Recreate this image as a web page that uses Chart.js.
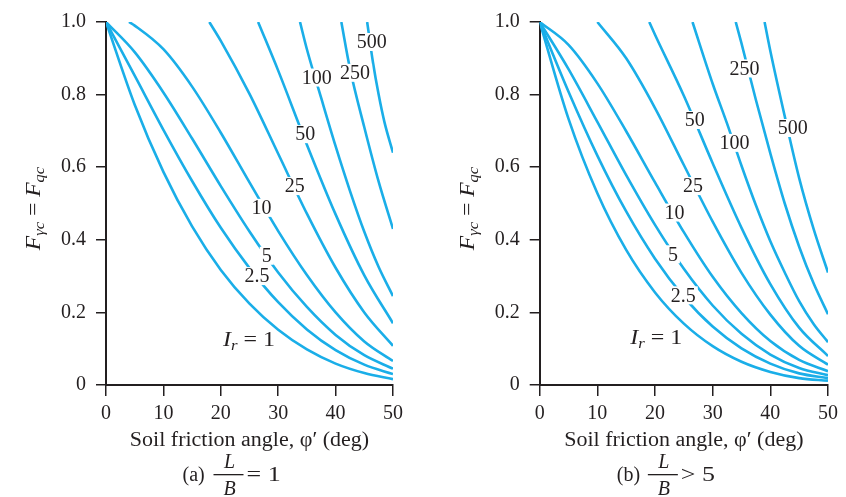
<!DOCTYPE html>
<html>
<head>
<meta charset="utf-8">
<script src="https://cdn.jsdelivr.net/npm/chart.js@4.4.1/dist/chart.umd.min.js"></script>
<style>
  html, body { margin: 0; padding: 0; background: #fff; }
  #wrap { position: relative; width: 846px; height: 497px; }
  .panel { position: absolute; top: 0; width: 423px; height: 497px; }
</style>
</head>
<body>
<div id="wrap">
  <div class="panel" style="left:0"><canvas id="chartA" width="423" height="497"></canvas></div>
  <div class="panel" style="left:423px"><canvas id="chartB" width="423" height="497"></canvas></div>
</div>
<script>
// ===================== DADOS =====================
const X_TICKS = [0, 10, 20, 30, 40, 50];
const Y_TICKS = [0, 0.2, 0.4, 0.6, 0.8, 1.0];
const Y_TICK_TEXT = ['0', '0.2', '0.4', '0.6', '0.8', '1.0'];

// (a) L/B = 1  -> pares [phi, F]
const A_IR1   = [[0,1],[5,.772],[10,.587],[15,.437],[20,.317],[25,.224],[30,.152],[35,.098],[40,.059],[45,.033],[50,.016]];
const A_IR2_5 = [[0,1],[5,.852],[10,.703],[15,.562],[20,.433],[25,.322],[30,.228],[35,.153],[40,.096],[45,.056],[50,.03]];
const A_IR5   = [[0,1],[5,.917],[10,.806],[15,.679],[20,.548],[25,.423],[30,.31],[35,.215],[40,.138],[45,.082],[50,.045]];
const A_IR10  = [[4,1],[5,.99],[10,.925],[15,.822],[20,.695],[25,.558],[30,.424],[35,.303],[40,.2],[45,.12],[50,.066]];
const A_IR25  = [[18,1],[20,.948],[25,.802],[30,.637],[35,.472],[40,.323],[45,.2],[50,.108]];
const A_IR50  = [[26.5,1],[30,.866],[35,.662],[40,.47],[45,.302],[50,.17]];
const A_IR100 = [[33.8,1],[35,.925],[37.5,.79],[40,.658],[42.5,.535],[45,.422],[47.5,.325],[50,.245]];
const A_IR250 = [[41,1],[42.5,.872],[45,.71],[47.5,.56],[50,.43]];
const A_IR500 = [[45.5,1],[46.5,.89],[47.5,.80],[48.5,.725],[50,.64]];

// (b) L/B > 5
const B_IR1   = [[0,1],[5,.733],[10,.528],[15,.372],[20,.255],[25,.169],[30,.107],[35,.064],[40,.036],[45,.019],[50,.012]];
const B_IR2_5 = [[0,1],[5,.808],[10,.632],[15,.478],[20,.348],[25,.243],[30,.161],[35,.101],[40,.059],[45,.032],[50,.019]];
const B_IR5   = [[0,1],[5,.87],[10,.725],[15,.578],[20,.441],[25,.32],[30,.219],[35,.141],[40,.084],[45,.047],[50,.027]];
const B_IR10  = [[0,1],[5,.937],[10,.831],[15,.699],[20,.558],[25,.421],[30,.298],[35,.198],[40,.121],[45,.069],[50,.038]];
const B_IR25  = [[10,1],[15,.9],[20,.763],[25,.606],[30,.45],[35,.309],[40,.194],[45,.108],[50,.056]];
const B_IR50  = [[19,1],[20,.965],[25,.797],[30,.611],[35,.433],[40,.278],[45,.158],[50,.08]];
const B_IR100 = [[26.5,1],[30,.83],[32.5,.72],[35,.604],[37.5,.495],[40,.396],[42.5,.31],[45,.231],[47.5,.168],[50,.118]];
const B_IR250 = [[34,1],[35,.941],[37.5,.785],[40,.638],[42.5,.5],[45,.381],[47.5,.28],[50,.195]];
const B_IR500 = [[39,1],[40,.92],[42.5,.74],[45,.57],[47.5,.43],[50,.31]];

// rotulos das curvas
const A_LABEL_TEXT = ['500', '250', '100', '50', '25', '10', '5', '2.5'];
const A_LABEL_PHI  = [46.3, 43.4, 36.7, 34.7, 32.9, 27.1, 28.0, 26.3];
const A_LABEL_F    = [0.945, 0.86, 0.847, 0.691, 0.548, 0.488, 0.356, 0.30];
const A_IR_POS     = [24.9, 0.128];

const B_LABEL_TEXT = ['250', '500', '50', '100', '25', '10', '5', '2.5'];
const B_LABEL_PHI  = [35.5, 43.9, 26.9, 33.8, 26.6, 23.4, 23.1, 24.9];
const B_LABEL_F    = [0.872, 0.708, 0.73, 0.667, 0.548, 0.475, 0.36, 0.247];
const B_IR_POS     = [20.2, 0.132];

// ===================== ESTILO =====================
const SERIF = '"Liberation Serif", "Times New Roman", serif';
const INK = '#231f20';
const CURVE_COLOR = '#1aaee8';

// desenha pedacos de texto em sequencia (italico, subscrito...), com esticamento horizontal k
function drawRuns(ctx, parts, x, y, center, k = 1) {
  let total = 0;
  parts.forEach(p => { ctx.font = p.font; p.w = ctx.measureText(p.t).width; total += p.w; });
  ctx.save();
  ctx.translate(x, y);
  ctx.scale(k, 1);
  let cx = center ? -total / 2 : 0;
  ctx.textAlign = 'left';
  ctx.textBaseline = 'alphabetic';
  parts.forEach(p => {
    ctx.font = p.font;
    ctx.fillText(p.t, cx, p.dy || 0);
    cx += p.w;
  });
  ctx.restore();
}

const annotate = {
  id: 'annotate',
  afterDatasetsDraw(chart, args, opts) {
    const { ctx, chartArea } = chart;
    const xs = chart.scales.x, ys = chart.scales.y;
    const big = `20px ${SERIF}`, it = `italic 20px ${SERIF}`, sub = `italic 14px ${SERIF}`;
    ctx.save();

    // rotulos sobre as curvas (fundo branco abre o "gap" na linha)
    ctx.font = big;
    ctx.textAlign = 'center';
    ctx.textBaseline = 'middle';
    opts.text.forEach((t, i) => {
      const px = xs.getPixelForValue(opts.phi[i]);
      const py = ys.getPixelForValue(opts.f[i]);
      const w = ctx.measureText(t).width;
      ctx.fillStyle = '#fff';
      ctx.fillRect(px - w / 2 - 2, py - 9, w + 4, 18);
      ctx.fillStyle = INK;
      ctx.fillText(t, px, py + 1);
    });

    // I_r = 1
    ctx.fillStyle = INK;
    drawRuns(ctx, [
      { t: 'I', font: it },
      { t: 'r', font: sub, dy: 4 },
      { t: ' = 1', font: big }
    ], xs.getPixelForValue(opts.ir[0]), ys.getPixelForValue(opts.ir[1]) + 7, true, 1.2);

    // titulo do eixo x
    const cx = (chartArea.left + chartArea.right) / 2;
    drawRuns(ctx, [{ t: 'Soil friction angle, \u03c6\u2032 (deg)', font: big }],
      cx, chartArea.bottom + 61, true, 1.1);

    // legenda (a) L/B = 1
    drawRuns(ctx, [{ t: opts.tag, font: big }], cx - 67, chartArea.bottom + 96, false);
    ctx.font = it;
    ctx.textAlign = 'center';
    ctx.textBaseline = 'alphabetic';
    ctx.fillText('L', cx - 20, chartArea.bottom + 83);
    ctx.fillText('B', cx - 20, chartArea.bottom + 110);
    ctx.fillRect(cx - 36, chartArea.bottom + 89, 30, 1.3);
    drawRuns(ctx, [{ t: opts.rel, font: big }], cx - 3, chartArea.bottom + 96, false, 1.3);

    // titulo do eixo y: F_yc = F_qc
    ctx.translate(chartArea.left - 66, (chartArea.top + chartArea.bottom) / 2 + 5);
    ctx.rotate(-Math.PI / 2);
    drawRuns(ctx, [
      { t: 'F', font: it },
      { t: '\u03b3c', font: sub, dy: 4 },
      { t: ' = ', font: big },
      { t: 'F', font: it },
      { t: 'qc', font: sub, dy: 4 }
    ], 0, 0, true, 1.18);

    ctx.restore();
  }
};

// ===================== PAINEL =====================
function renderPanel(id, curves, axisLeft, padRight, labels) {
  const canvas = document.getElementById(id);
  const datasets = curves.map(c => ({
    data: c.map(([x, y]) => ({ x, y })),
    borderColor: CURVE_COLOR,
    borderWidth: 2.6,
    pointRadius: 0,
    fill: false,
    cubicInterpolationMode: 'monotone'
  }));

  return new Chart(canvas, {
    type: 'line',
    data: { datasets },
    plugins: [annotate],
    options: {
      responsive: false,
      animation: false,
      layout: { padding: { top: 20, right: padRight, left: 0, bottom: 0 } },
      plugins: {
        legend: { display: false },
        tooltip: { enabled: false },
        annotate: labels
      },
      scales: {
        x: {
          type: 'linear',
          min: 0,
          max: 50,
          afterBuildTicks: s => { s.ticks = X_TICKS.map(v => ({ value: v })); },
          afterFit: s => { s.height = 112; },
          ticks: {
            color: INK,
            font: { family: SERIF, size: 20 },
            padding: 6,
            maxRotation: 0,
            callback: v => String(v)
          },
          grid: { drawOnChartArea: false, drawTicks: true, tickLength: 11, color: INK, lineWidth: 1.5 },
          border: { display: true, color: INK, width: 2 }
        },
        y: {
          type: 'linear',
          min: 0,
          max: 1,
          afterBuildTicks: s => { s.ticks = Y_TICKS.map(v => ({ value: v })); },
          afterFit: s => { s.width = axisLeft; },
          ticks: {
            color: INK,
            font: { family: SERIF, size: 20 },
            padding: 10,
            callback: (v, i) => Y_TICK_TEXT[i]
          },
          grid: { drawOnChartArea: false, drawTicks: true, tickLength: 10, color: INK, lineWidth: 1.5 },
          border: { display: true, color: INK, width: 2 }
        }
      }
    }
  });
}

renderPanel('chartA',
  [A_IR1, A_IR2_5, A_IR5, A_IR10, A_IR25, A_IR50, A_IR100, A_IR250, A_IR500],
  106, 30,
  { text: A_LABEL_TEXT, phi: A_LABEL_PHI, f: A_LABEL_F, ir: A_IR_POS, tag: '(a)', rel: '= 1' });

renderPanel('chartB',
  [B_IR1, B_IR2_5, B_IR5, B_IR10, B_IR25, B_IR50, B_IR100, B_IR250, B_IR500],
  116.7, 18,
  { text: B_LABEL_TEXT, phi: B_LABEL_PHI, f: B_LABEL_F, ir: B_IR_POS, tag: '(b)', rel: '> 5' });
</script>
</body>
</html>
